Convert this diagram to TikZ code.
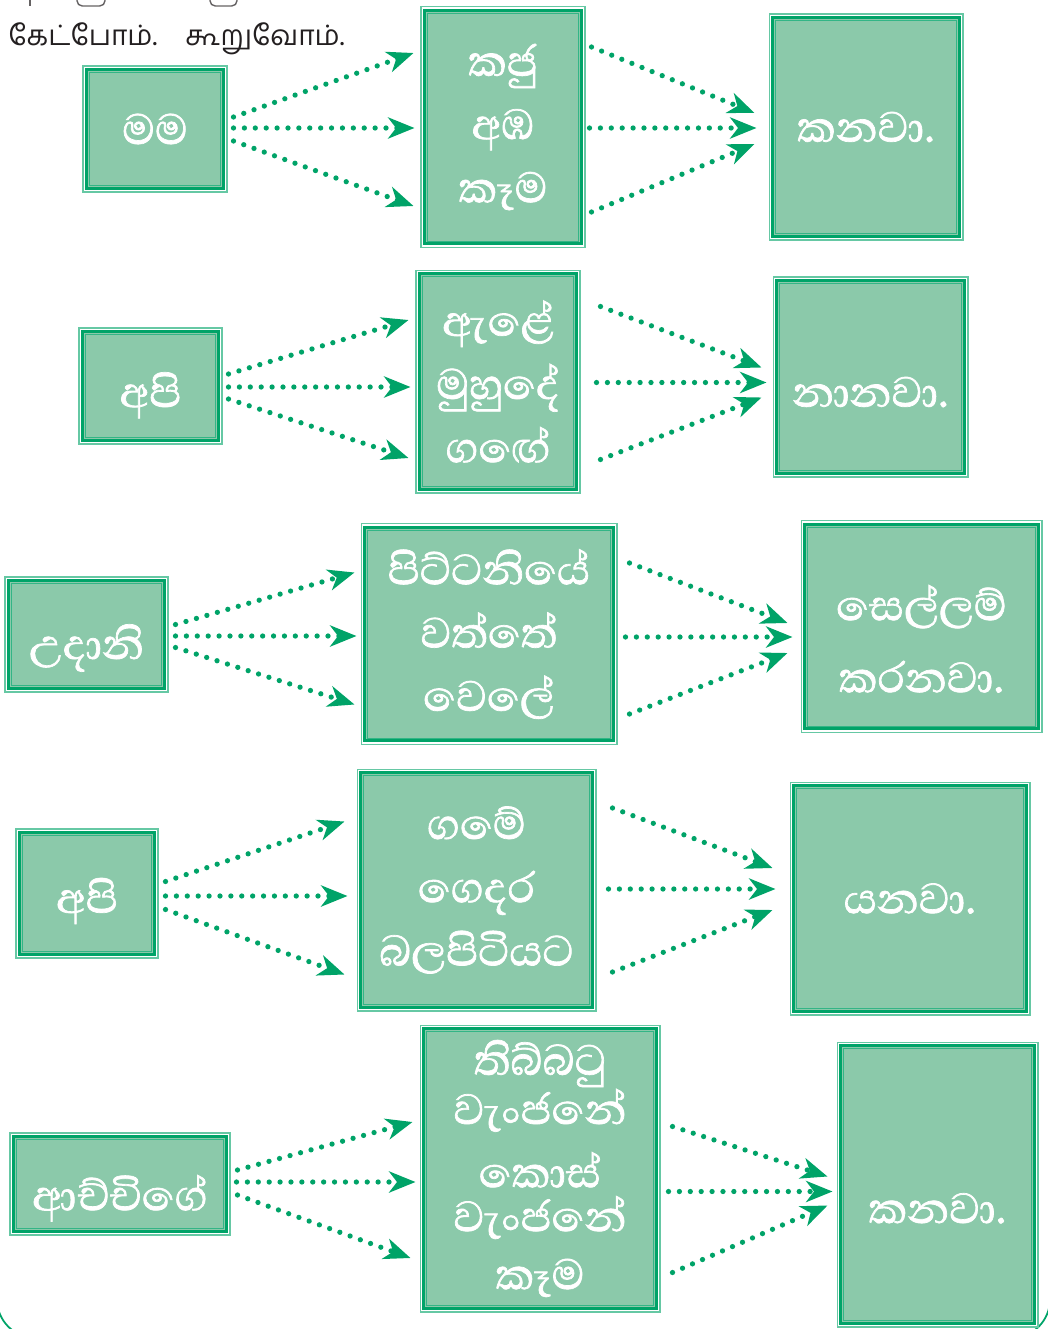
\documentclass[tikz,border=0pt]{standalone}
\usepackage{fontspec}
\usetikzlibrary{arrows.meta,calc}
\newfontfamily\sinhalafont[Script=Sinhala, FakeBold=1.3]{Abhaya Libre}
\newfontfamily\tamilfont[Script=Tamil]{Hind Madurai}
\definecolor{boxfill}{RGB}{139,201,170}
\definecolor{boxedge}{RGB}{0,163,104}
\definecolor{fangreen}{RGB}{0,163,104}
\definecolor{inkgray}{RGB}{35,31,32}
% push a text down inside its box
\newcommand{\sink}[2]{\raisebox{-#1}[0pt][0pt]{#2}}

\tikzset{
  wordbox/.style={draw=boxedge!60, line width=0.6pt, fill=boxfill, text=white, inner sep=0pt, align=center,
    font=\sinhalafont\fontsize{31}{36}\selectfont,
    path picture={
      \draw[white, line width=1pt] ([shift={(0.7pt,0.7pt)}]path picture bounding box.south west) rectangle ([shift={(-0.7pt,-0.7pt)}]path picture bounding box.north east);
      \draw[boxedge, line width=1.8pt] ([shift={(2.1pt,2.1pt)}]path picture bounding box.south west) rectangle ([shift={(-2.1pt,-2.1pt)}]path picture bounding box.north east);
      \draw[boxedge!80, line width=0.5pt] ([shift={(3.7pt,3.7pt)}]path picture bounding box.south west) rectangle ([shift={(-3.7pt,-3.7pt)}]path picture bounding box.north east);
    }},
  fanline/.style={fangreen, line width=3pt, line cap=round, dash pattern=on 0pt off 6.2pt}
}

\begin{document}
\begin{tikzpicture}[x=0.02cm, y=-0.02cm, >={Stealth[length=15pt, width=12pt, inset=4.5pt]}]
    \useasboundingbox (0,0) rectangle (1048,1329);
    \clip (0,0) rectangle (1048,1329);

    % Cut-off bits of the line above, and the page frame
    \draw[inkgray!70, line width=0.8pt, rounded corners=3] (77,-20) rectangle (105,6);
    \draw[inkgray!70, line width=0.8pt, rounded corners=3] (210,-20) rectangle (237,6);
    \draw[inkgray!70, line width=0.8pt] (30,-5) -- (30,6);
    \draw[boxedge, line width=1pt, rounded corners=22] (-3,-100) rectangle (1050,1338);

    % Prompt (Tamil)
    \node[anchor=west, inner sep=0pt, text=inkgray, font=\tamilfont\fontsize{16}{18}\selectfont] (prompt) at (8,39) {கேட்போம்.\quad கூறுவோம்.};

    % Row 1
    \node[wordbox, minimum width=2.88cm, minimum height=2.52cm] (l1) at (155,129) {මම};
    \node[wordbox, minimum width=3.28cm, minimum height=4.82cm] (m1) at (503,127) {කජු\\අඹ\\කෑම};
    \node[wordbox, minimum width=3.88cm, minimum height=4.52cm] (r1) at (866,127) {කනවා.};
    \draw[fanline, ->] ($(l1.east)+(6,-12)$) -- ($(m1.west |- l1.east)+(-7,-76)$);
    \draw[fanline, ->] ($(l1.east)+(6,-1)$) -- ($(m1.west |- l1.east)+(-6,-1)$);
    \draw[fanline, ->] ($(l1.east)+(6,12)$) -- ($(m1.west |- l1.east)+(-7,77)$);
    \draw[fanline, ->] ($(m1.east)+(6,-80)$) -- ($(r1.west |- m1.east)+(-14,-14)$);
    \draw[fanline, ->] ($(m1.east)+(4,1)$) -- ($(r1.west |- m1.east)+(-12,1)$);
    \draw[fanline, ->] ($(m1.east)+(6,85)$) -- ($(r1.west |- m1.east)+(-14,17)$);

    % Row 2
    \node[wordbox, minimum width=2.86cm, minimum height=2.32cm] (l2) at (150.5,386) {\sink{12pt}{අපි}};
    \node[wordbox, minimum width=3.28cm, minimum height=4.46cm] (m2) at (498,381.5) {ඇළේ\\මුහුදේ\\ගඟේ};
    \node[wordbox, minimum width=3.90cm, minimum height=4.00cm] (r2) at (870.5,377) {\sink{17pt}{නානවා.}};
    \draw[fanline, ->] ($(l2.east)+(6,-12)$) -- ($(m2.west |- l2.east)+(-7,-66)$);
    \draw[fanline, ->] ($(l2.east)+(6,1)$) -- ($(m2.west |- l2.east)+(-5,1)$);
    \draw[fanline, ->] ($(l2.east)+(6,13)$) -- ($(m2.west |- l2.east)+(-7,72)$);
    \draw[fanline, ->] ($(m2.east)+(20,-75)$) -- ($(r2.west |- m2.east)+(-11,-14)$);
    \draw[fanline, ->] ($(m2.east)+(16,1)$) -- ($(r2.west |- m2.east)+(-6,1)$);
    \draw[fanline, ->] ($(m2.east)+(20,78)$) -- ($(r2.west |- m2.east)+(-11,16)$);

    % Row 3
    \node[wordbox, minimum width=3.26cm, minimum height=2.30cm] (l3) at (86.5,634.5) {\sink{14pt}{උදානි}};
    \node[wordbox, minimum width=5.12cm, minimum height=4.42cm] (m3) at (489,634) {පිට්ටනියේ\\වත්තේ\\වෙලේ};
    \node[wordbox, minimum width=4.82cm, minimum height=4.24cm] (r3) at (921.5,626.5) {\sink{16pt}{\begin{tabular}{@{}c@{}}සෙල්ලම්\\[5pt]කරනවා.\end{tabular}}};
    \draw[fanline, ->] ($(l3.east)+(7,-10)$) -- ($(m3.west |- l3.east)+(-6,-62)$);
    \draw[fanline, ->] ($(l3.east)+(7,1.5)$) -- ($(m3.west |- l3.east)+(-4,1.5)$);
    \draw[fanline, ->] ($(l3.east)+(7,13)$) -- ($(m3.west |- l3.east)+(-6,70)$);
    \draw[fanline, ->] ($(m3.east)+(12,-71)$) -- ($(r3.west |- m3.east)+(-13,-11)$);
    \draw[fanline, ->] ($(m3.east)+(8,3)$) -- ($(r3.west |- m3.east)+(-8,3)$);
    \draw[fanline, ->] ($(m3.east)+(12,80)$) -- ($(r3.west |- m3.east)+(-13,19)$);

    % Row 4
    \node[wordbox, minimum width=2.84cm, minimum height=2.58cm] (l4) at (87,893.5) {\sink{11pt}{අපි}};
    \node[wordbox, minimum width=4.78cm, minimum height=4.84cm] (m4) at (476.5,890) {ගමේ\\ගෙදර\\බලපිටියට};
    \node[wordbox, minimum width=4.80cm, minimum height=4.66cm] (r4) at (910,898.5) {යනවා.};
    \draw[fanline, ->] ($(l4.east)+(7,-12)$) -- ($(m4.west |- l4.east)+(-12,-72)$);
    \draw[fanline, ->] ($(l4.east)+(7,2.5)$) -- ($(m4.west |- l4.east)+(-9,2.5)$);
    \draw[fanline, ->] ($(l4.east)+(7,16)$) -- ($(m4.west |- l4.east)+(-12,81)$);
    \draw[fanline, ->] ($(m4.east)+(16,-82)$) -- ($(r4.west |- m4.east)+(-17,-22)$);
    \draw[fanline, ->] ($(m4.east)+(12,-1)$) -- ($(r4.west |- m4.east)+(-14,-1)$);
    \draw[fanline, ->] ($(m4.east)+(16,82)$) -- ($(r4.west |- m4.east)+(-17,20)$);

    % Row 5
    \node[wordbox, minimum width=4.40cm, minimum height=2.04cm] (l5) at (120,1184) {\sink{15pt}{ආච්චිගේ}};
    \node[wordbox, minimum width=4.80cm, minimum height=5.74cm, font=\sinhalafont\fontsize{31}{25}\selectfont] (m5) at (540,1168.5) {තිබ්බටු\\වැංජනේ\\[11pt]කොස්\\වැංජනේ\\[8pt]කෑම};
    \node[wordbox, minimum width=4.02cm, minimum height=5.70cm] (r5) at (937.5,1184.5) {\sink{22pt}{කනවා.}};
    \draw[fanline, ->] ($(l5.east)+(7,-14)$) -- ($(m5.west |- l5.east)+(-7,-62)$);
    \draw[fanline, ->] ($(l5.east)+(6,-2)$) -- ($(m5.west |- l5.east)+(-4,-2)$);
    \draw[fanline, ->] ($(l5.east)+(7,11)$) -- ($(m5.west |- l5.east)+(-9,74)$);
    \draw[fanline, ->] ($(m5.east)+(12,-42)$) -- ($(r5.west |- m5.east)+(-9,8)$);
    \draw[fanline, ->] ($(m5.east)+(8,23)$) -- ($(r5.west |- m5.east)+(-4,23)$);
    \draw[fanline, ->] ($(m5.east)+(12,104)$) -- ($(r5.west |- m5.east)+(-9,37)$);
\end{tikzpicture}
\end{document}
